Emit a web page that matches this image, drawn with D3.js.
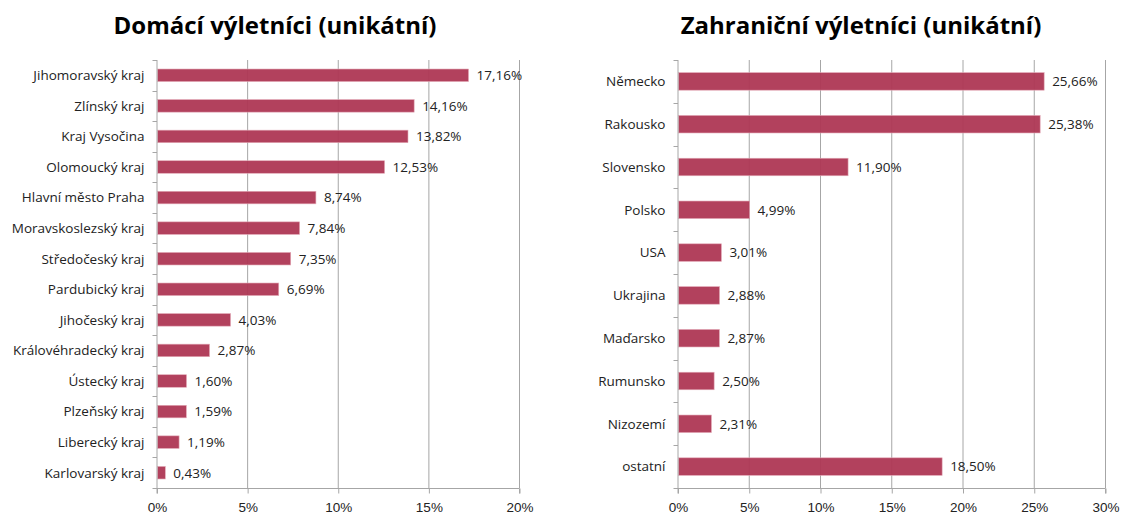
<!DOCTYPE html>
<html>
<head>
<meta charset="utf-8">
<script src="https://cdn.jsdelivr.net/npm/d3@7"></script>
<style>
  body { margin: 0; background: #fff; }
  svg { display: block; font-family: "Open Sans", sans-serif; }
  .title { font-weight: bold; font-size: 24px; fill: #000; }
  .cat { font-size: 13.5px; fill: #222; }
  .val { font-size: 13.5px; fill: #222; }
  .tick-label { font-size: 13.5px; fill: #222; }
</style>
</head>
<body>
<div id="chart"></div>
<script>
// Domácí výletníci
let domRegions = ['Jihomoravský kraj', 'Zlínský kraj', 'Kraj Vysočina', 'Olomoucký kraj',
  'Hlavní město Praha', 'Moravskoslezský kraj', 'Středočeský kraj', 'Pardubický kraj',
  'Jihočeský kraj', 'Královéhradecký kraj', 'Ústecký kraj', 'Plzeňský kraj',
  'Liberecký kraj', 'Karlovarský kraj'];
let domValues = [17.16, 14.16, 13.82, 12.53, 8.74, 7.84, 7.35, 6.69, 4.03, 2.87, 1.60, 1.59, 1.19, 0.43];
let domTicks = [0, 5, 10, 15, 20];

// Zahraniční výletníci
let forCountries = ['Německo', 'Rakousko', 'Slovensko', 'Polsko', 'USA', 'Ukrajina',
  'Maďarsko', 'Rumunsko', 'Nizozemí', 'ostatní'];
let forValues = [25.66, 25.38, 11.90, 4.99, 3.01, 2.88, 2.87, 2.50, 2.31, 18.50];
let forTicks = [0, 5, 10, 15, 20, 25, 30];

let width = 1121;
let height = 515;
let barColor = '#ae3754';
let gridColor = '#a6a6a6';

let svg = d3.select('#chart')
  .append('svg')
  .attr('width', width)
  .attr('height', height);

let fmt = v => d3.format('.2f')(v).replace('.', ',') + '%';

function drawPanel(opts) {
  let { title, cats, vals, ticks, x0, x1, titleX } = opts;
  let top = 60, bottom = 488;

  let x = d3.scaleLinear()
    .domain([0, d3.max(ticks)])
    .range([x0, x1]);

  let y = d3.scaleBand()
    .domain(cats)
    .range([top, bottom])
    .paddingInner(0.59)
    .paddingOuter(0.295);

  let g = svg.append('g');

  g.append('text')
    .attr('class', 'title')
    .attr('x', titleX)
    .attr('y', 34)
    .attr('text-anchor', 'middle')
    .text(title);

  // vertical gridlines
  g.selectAll('.grid')
    .data(ticks.slice(1))
    .enter().append('line')
    .attr('x1', d => x(d) + 0.5)
    .attr('x2', d => x(d) + 0.5)
    .attr('y1', top)
    .attr('y2', bottom)
    .attr('stroke', gridColor)
    .attr('stroke-width', 1);

  // bars
  g.selectAll('.bar')
    .data(vals)
    .enter().append('rect')
    .attr('x', x(0) + 1)
    .attr('y', (d, i) => y(cats[i]))
    .attr('width', d => x(d) - x(0))
    .attr('height', y.bandwidth())
    .attr('fill', barColor)
    .attr('fill-opacity', 0.95)
    .attr('stroke', '#e3a9b6')
    .attr('stroke-width', 0.6);

  // value labels
  g.selectAll('.val')
    .data(vals)
    .enter().append('text')
    .attr('class', 'val')
    .attr('x', d => x(d) + 9)
    .attr('y', (d, i) => y(cats[i]) + y.bandwidth() / 2)
    .attr('dy', '0.36em')
    .text(fmt);

  // y axis with ticks at band boundaries
  let bounds = d3.range(cats.length + 1).map(i => top + i * (bottom - top) / cats.length);
  g.append('line')
    .attr('x1', x(0) + 0.5).attr('x2', x(0) + 0.5)
    .attr('y1', top).attr('y2', bottom)
    .attr('stroke', gridColor);
  g.selectAll('.ytick')
    .data(bounds)
    .enter().append('line')
    .attr('x1', x(0) - 4).attr('x2', x(0) + 0.5)
    .attr('y1', d => Math.round(d) + 0.5).attr('y2', d => Math.round(d) + 0.5)
    .attr('stroke', gridColor);

  g.selectAll('.cat')
    .data(cats)
    .enter().append('text')
    .attr('class', 'cat')
    .attr('x', x(0) - 12)
    .attr('y', d => y(d) + y.bandwidth() / 2)
    .attr('dy', '0.36em')
    .attr('text-anchor', 'end')
    .text(d => d);

  // x axis
  let xAxis = d3.axisBottom(x)
    .tickValues(ticks)
    .tickSize(5)
    .tickFormat(d => d + '%');
  let ax = g.append('g')
    .attr('transform', `translate(0.5, ${bottom + 0.5})`)
    .call(xAxis);
  ax.select('.domain').attr('stroke', gridColor).attr('d', `M${x0},5V0H${x1}V5`);
  ax.selectAll('.tick line').attr('stroke', gridColor);
  ax.selectAll('.tick text')
    .attr('class', 'tick-label')
    .attr('y', 14)
    .attr('font-family', null)
    .attr('font-size', null);
}

drawPanel({
  title: 'Domácí výletníci (unikátní)',
  cats: domRegions, vals: domValues, ticks: domTicks,
  x0: 156.5, x1: 519, titleX: 275
});

drawPanel({
  title: 'Zahraniční výletníci (unikátní)',
  cats: forCountries, vals: forValues, ticks: forTicks,
  x0: 677.5, x1: 1105, titleX: 861
});
</script>
</body>
</html>
